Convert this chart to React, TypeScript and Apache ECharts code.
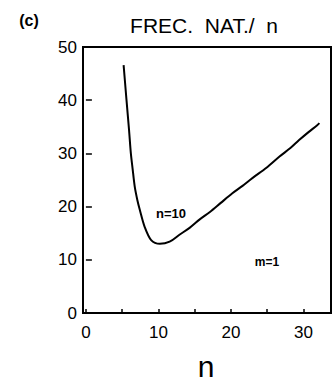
import React, { useEffect, useRef } from "react";
import * as echarts from "echarts";

// Natural frequency versus n (m = 1)
const nValues = [5.2, 5.6, 5.95, 6.2, 6.45, 6.74, 7.1, 7.43, 8.1, 9.0, 10.2, 11.55, 12.9, 14.3, 15.7, 17.1, 18.6, 20.2, 21.6, 23.0, 24.9, 26.7, 28.2, 29.4, 30.7, 31.9, 32.2];
const freqValues = [46.6, 40.0, 34.4, 30.0, 27.0, 23.7, 21.2, 19.4, 16.2, 13.7, 13.0, 13.4, 14.7, 16.0, 17.6, 19.0, 20.7, 22.5, 23.9, 25.4, 27.3, 29.4, 31.0, 32.5, 34.0, 35.3, 35.7];

const xTickValues = [0, 5, 10, 15, 20, 25, 30];
const xLabelValues = [0, 10, 20, 30];

const titleText = "FREC.  NAT./  n";
const panelText = "(c)";
const curveLabel = "n=10";
const modeLabel = "m=1";
const xName = "n";

export default function App() {
  const ref = useRef<HTMLDivElement>(null);

  useEffect(() => {
    if (!ref.current) return;
    const chart = echarts.init(ref.current, null, { renderer: "svg" });
    const font = "'Liberation Sans', Arial, Helvetica, sans-serif";
    chart.setOption({
      animation: false,
      backgroundColor: "#fff",
      grid: {
        left: 83,
        right: 5,
        top: 47,
        bottom: 70,
        show: true,
        borderColor: "#000",
        borderWidth: 2,
        backgroundColor: "transparent",
      },
      xAxis: {
        type: "value",
        min: -0.4,
        max: 33.8,
        axisLine: { show: false },
        splitLine: { show: false },
        axisTick: {
          show: true,
          inside: true,
          length: 4,
          customValues: xTickValues,
          lineStyle: { color: "#000", width: 1.5 },
        },
        axisLabel: {
          customValues: xLabelValues,
          color: "#000",
          fontSize: 17,
          fontFamily: font,
          margin: 11,
        },
      },
      yAxis: {
        type: "value",
        min: 0,
        max: 50,
        interval: 10,
        axisLine: { show: false },
        splitLine: { show: false },
        axisTick: {
          show: true,
          inside: true,
          length: 6,
          lineStyle: { color: "#000", width: 1.5 },
        },
        axisLabel: {
          color: "#000",
          fontSize: 17,
          fontFamily: font,
          margin: 6,
        },
      },
      series: [
        {
          type: "line",
          data: nValues.map((n, i) => [n, freqValues[i]]),
          showSymbol: false,
          smooth: 0.3,
          lineStyle: { color: "#000", width: 2 },
        },
      ],
      graphic: [
        {
          type: "text",
          x: 29,
          y: 20,
          style: {
            text: panelText,
            fontSize: 16,
            fontWeight: "bold",
            fill: "#000",
            fontFamily: font,
            textAlign: "center",
            textVerticalAlign: "middle",
          },
        },
        {
          type: "text",
          x: 204,
          y: 25,
          style: {
            text: titleText,
            fontSize: 21,
            fill: "#000",
            fontFamily: font,
            textAlign: "center",
            textVerticalAlign: "middle",
          },
        },
        {
          type: "text",
          x: 171,
          y: 213,
          style: {
            text: curveLabel,
            fontSize: 13,
            fontWeight: "bold",
            fill: "#000",
            fontFamily: font,
            textAlign: "center",
            textVerticalAlign: "middle",
          },
        },
        {
          type: "text",
          x: 267,
          y: 262,
          style: {
            text: modeLabel,
            fontSize: 12,
            fontWeight: "bold",
            fill: "#000",
            fontFamily: font,
            textAlign: "center",
            textVerticalAlign: "middle",
          },
        },
        {
          type: "text",
          x: 206,
          y: 366,
          style: {
            text: xName,
            fontSize: 30,
            fill: "#000",
            fontFamily: font,
            textAlign: "center",
            textVerticalAlign: "middle",
          },
        },
      ],
    });
    return () => chart.dispose();
  }, []);

  return <div ref={ref} style={{ width: 336, height: 383, position: "fixed", left: 0, top: 0 }} />;
}
